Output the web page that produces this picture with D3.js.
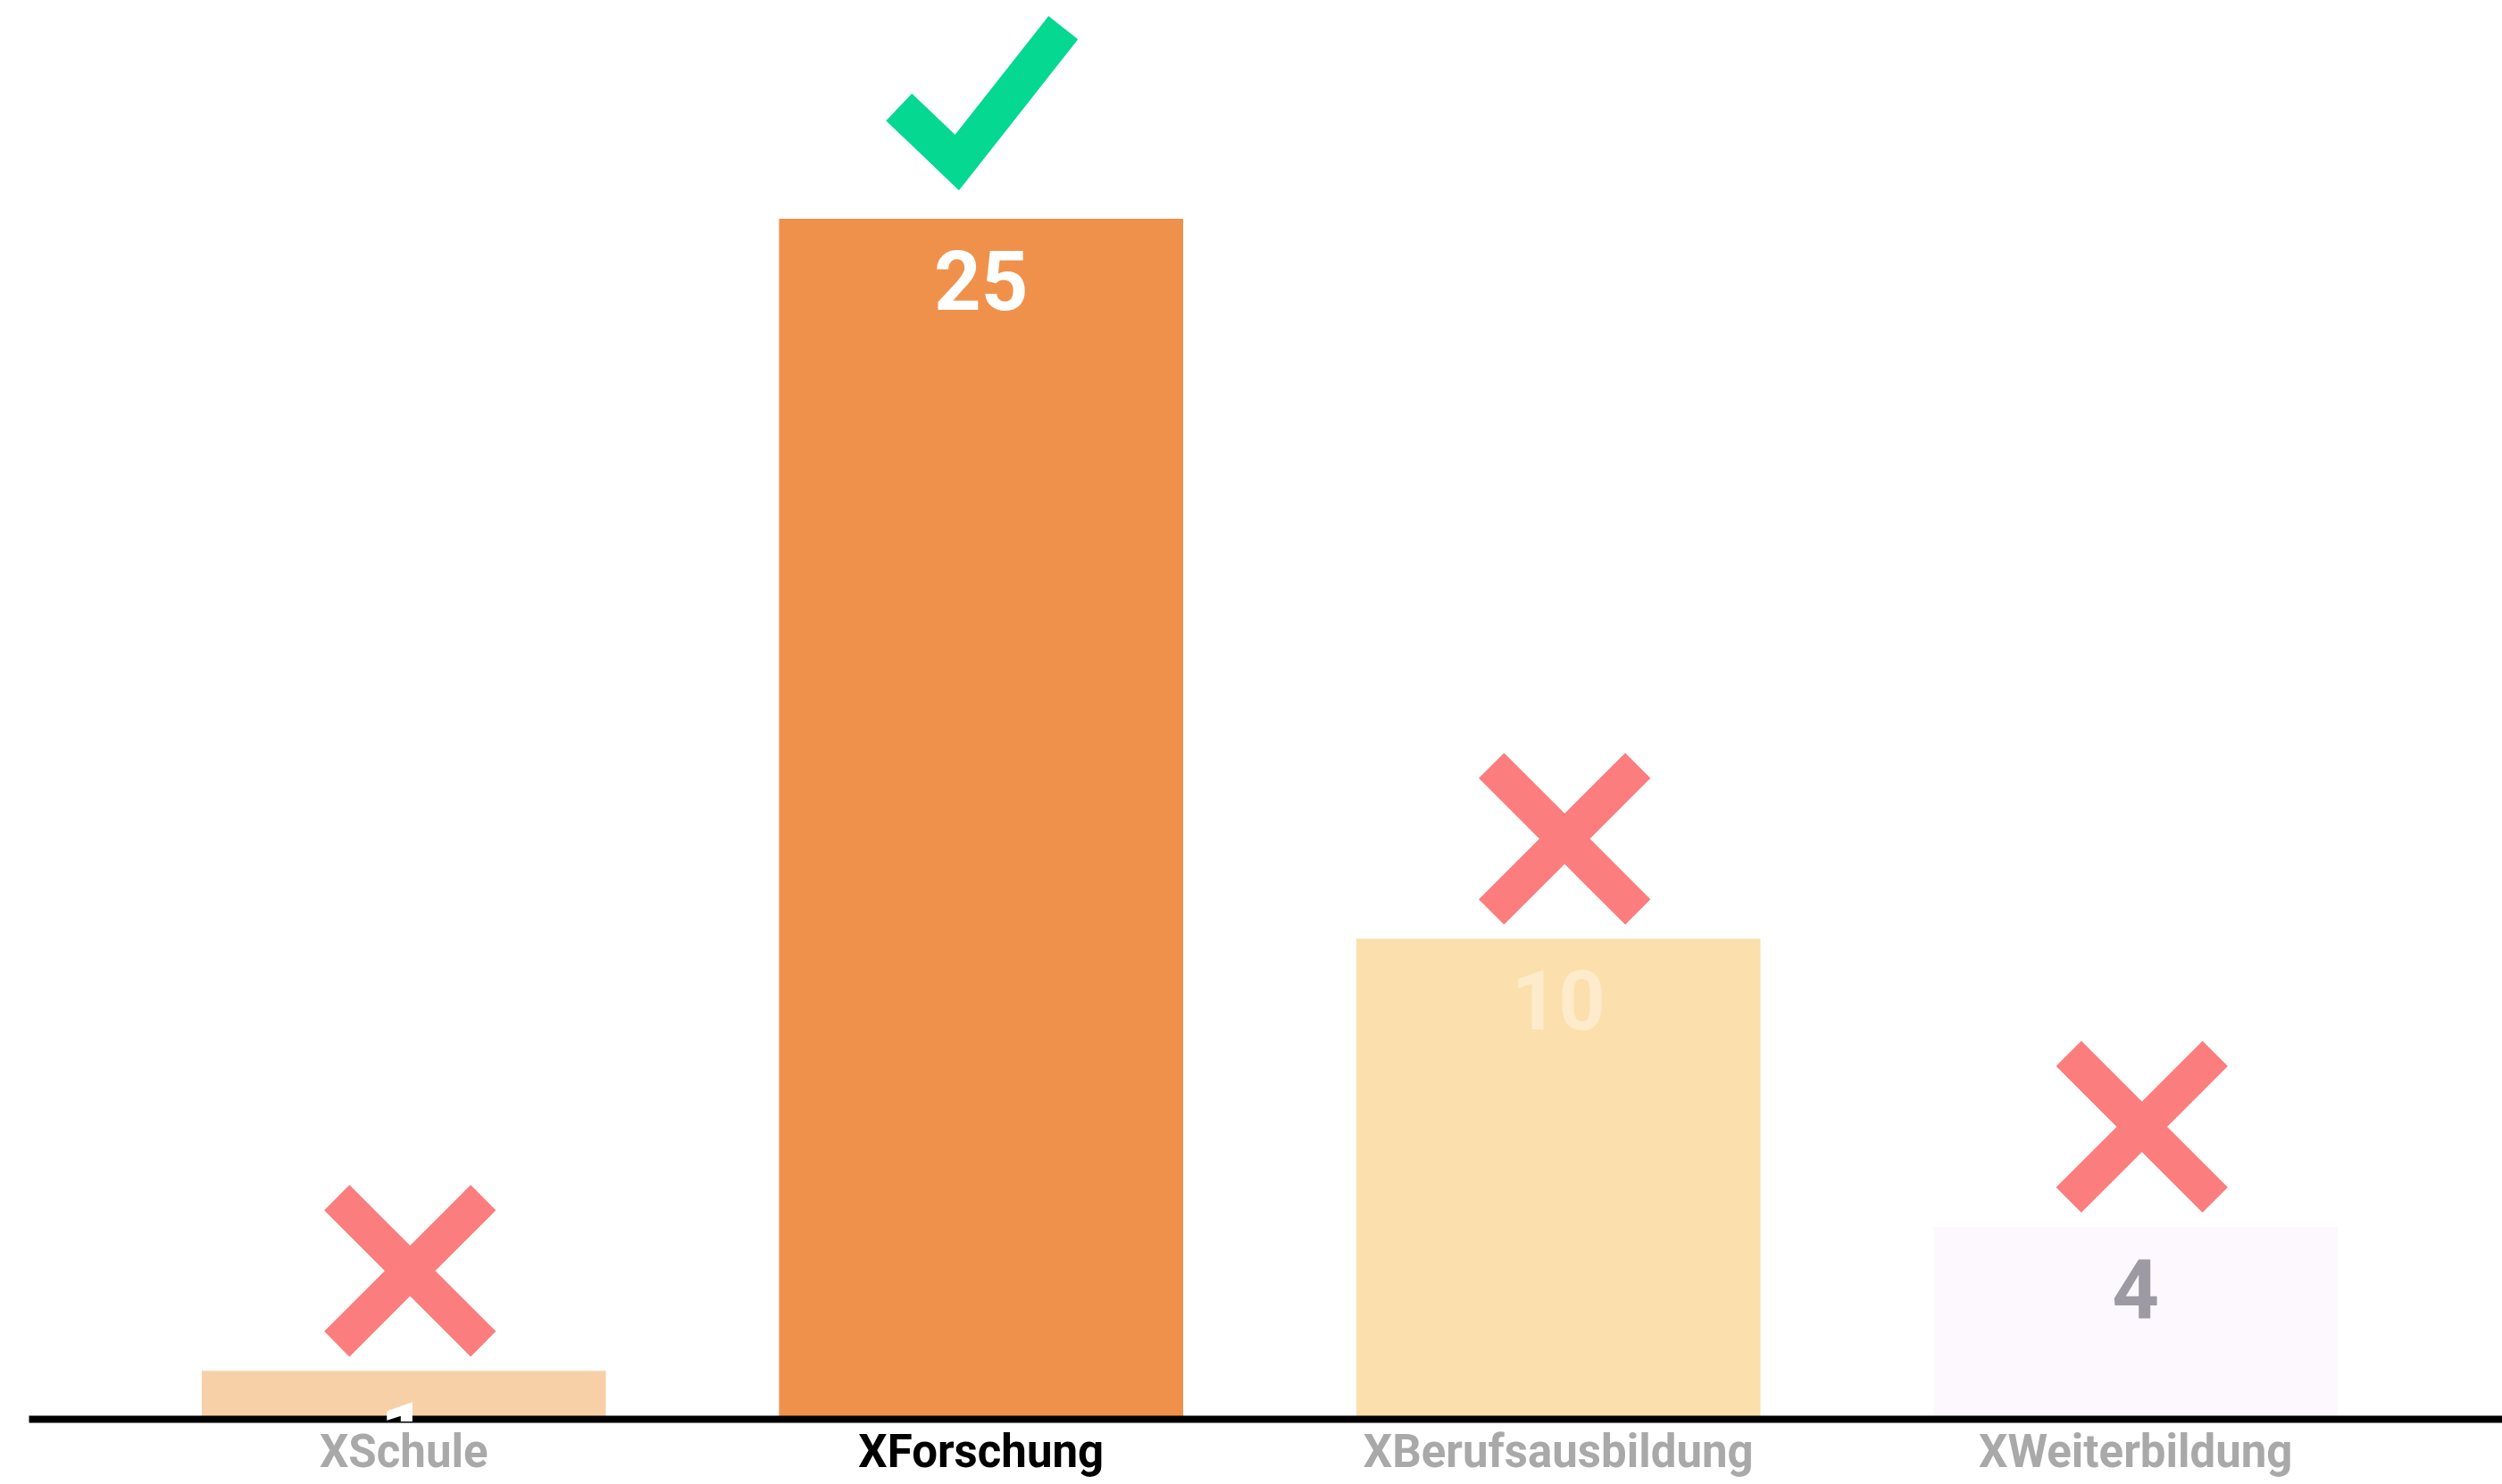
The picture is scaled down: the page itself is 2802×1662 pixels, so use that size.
<!DOCTYPE html>
<html>
<head>
<meta charset="utf-8">
<script src="https://cdn.jsdelivr.net/npm/d3@7"></script>
<style>
  html, body { margin: 0; padding: 0; background: #ffffff; }
  svg { display: block; }
</style>
</head>
<body>
<svg id="chart" width="2802" height="1662"></svg>
<script>
// ---- data ----
const categories = ["XSchule", "XForschung", "XBerufsausbildung", "XWeiterbildung"];
const values = [1, 25, 10, 4];
const correctCategory = "XForschung";

// ---- layout ----
const W = 2802, H = 1662;
const baseY = 1589;
const svg = d3.select("#chart");

const x = d3.scaleBand()
  .domain(categories)
  .range([32, 2812])
  .paddingInner(0.3)
  .paddingOuter(0.3);

const y = d3.scaleLinear()
  .domain([0, 25])
  .range([baseY, 245]);

const barColor = d3.scaleOrdinal()
  .domain(categories)
  .range(["#f8d0a7", "#f0914b", "#fbdfac", "#fcf8fd"]);

const valueColor = d3.scaleOrdinal()
  .domain(categories)
  .range(["#ffffff", "#ffffff", "#fdebcc", "#9e9aa3"]);

const data = categories.map((c, i) => ({ cat: c, value: values[i] }));

// clip so value labels stay inside the plot area (above the axis line)
svg.append("defs").append("clipPath")
  .attr("id", "plotClip")
  .append("rect")
  .attr("x", 0).attr("y", 0)
  .attr("width", W).attr("height", baseY + 3);

// bars
svg.append("g").selectAll("rect")
  .data(data)
  .join("rect")
  .attr("x", d => x(d.cat))
  .attr("y", d => y(d.value))
  .attr("width", x.bandwidth())
  .attr("height", d => y(0) - y(d.value))
  .attr("fill", d => barColor(d.cat));

// axis
const axis = svg.append("g")
  .attr("transform", `translate(0,${baseY})`)
  .call(d3.axisBottom(x).tickSize(0).tickSizeOuter(0));
axis.select(".domain")
  .attr("stroke", "#000")
  .attr("stroke-width", 8);
axis.selectAll(".tick text")
  .attr("y", 54)
  .attr("dy", 0)
  .attr("font-family", "Roboto, 'Open Sans', sans-serif")
  .attr("font-weight", 700)
  .attr("font-size", 51)
  .attr("fill", d => d === correctCategory ? "#000000" : "#a9a9a9");

// value labels
svg.append("g")
  .attr("clip-path", "url(#plotClip)")
  .selectAll("text")
  .data(data)
  .join("text")
  .attr("x", d => x(d.cat) + x.bandwidth() / 2)
  .attr("y", d => y(d.value) + 102)
  .attr("text-anchor", "middle")
  .attr("font-family", "Roboto, 'Open Sans', sans-serif")
  .attr("font-weight", 700)
  .attr("font-size", 92)
  .attr("fill", d => valueColor(d.cat))
  .text(d => d.value);

// markers: check for correct, cross for others
const markers = svg.append("g");
data.forEach(d => {
  const cx = x(d.cat) + x.bandwidth() / 2;
  const top = y(d.value);
  if (d.cat === correctCategory) {
    markers.append("path")
      .attr("d", d3.line()([[cx - 92, top - 125], [cx - 27, top - 63], [cx + 92, top - 214]]))
      .attr("fill", "none")
      .attr("stroke", "#05d890")
      .attr("stroke-width", 42)
      .attr("stroke-linejoin", "miter")
      .attr("stroke-linecap", "butt");
  } else {
    const mx = cx + 7, my = top - 112, h = 82;
    markers.append("path")
      .attr("d", `M${mx - h},${my - h}L${mx + h},${my + h}M${mx + h},${my - h}L${mx - h},${my + h}`)
      .attr("fill", "none")
      .attr("stroke", "#fb7d7d")
      .attr("stroke-width", 40)
      .attr("stroke-linecap", "butt");
  }
});
</script>
</body>
</html>
